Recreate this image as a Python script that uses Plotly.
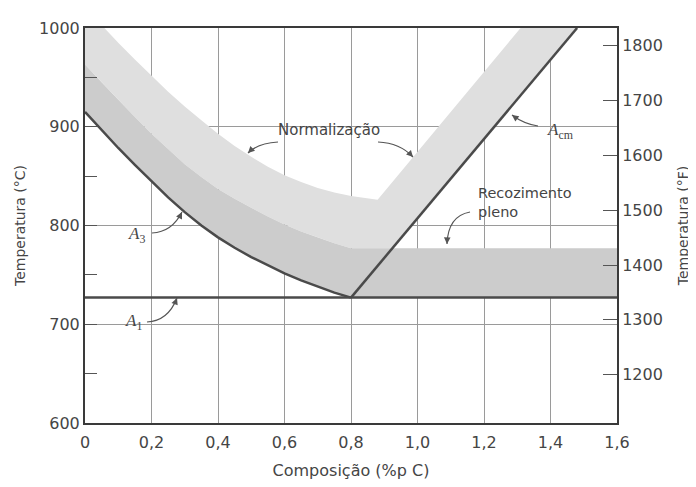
import math
import plotly.graph_objects as go

# ---- data ----
x_hypo = [0.0, 0.05, 0.10, 0.15, 0.20, 0.25, 0.30, 0.35, 0.40, 0.45, 0.50, 0.55, 0.60, 0.65, 0.70, 0.75, 0.80]
a3_temp = [915, 896.5, 878.5, 861.5, 844.5, 828.5, 813.5, 800, 788, 777.5, 768, 759.5, 751.5, 744.5, 738, 732, 727]  # A3 line
anneal_top_hypo = [963, 945, 927, 910, 893, 877, 862, 849, 837, 827, 818, 809, 801, 794, 788, 782, 777]              # top of full-annealing band
norm_top_x = [0.05, 0.10, 0.15, 0.20, 0.25, 0.30, 0.35, 0.40, 0.45, 0.50, 0.55, 0.60, 0.65, 0.70, 0.75, 0.80, 0.85, 0.88]
norm_top_t = [1003, 985, 968, 951.5, 935.5, 920.5, 906.5, 893, 880.5, 869.5, 859.5, 851, 844, 838, 833.5, 830, 827.5, 826]  # top of normalizing band
acm_x = [0.8, 1.48]
acm_t = [727, 1000]                                              # Acm line
norm_hyper_x = [0.88, 1.31]
norm_hyper_t = [826, 1000]                                       # upper edge of normalizing band (hyper)
a1_x = [0.0, 1.6]
a1_t = [727, 727]                                                # A1 line
anneal_hyper_x = [0.8, 1.6]
anneal_hyper_top = 777                                           # top of full annealing band (hyper)

x_ticks = [0, 0.2, 0.4, 0.6, 0.8, 1.0, 1.2, 1.4, 1.6]
x_ticklabels = ["0", "0,2", "0,4", "0,6", "0,8", "1,0", "1,2", "1,4", "1,6"]
c_ticks = [600, 700, 800, 900, 1000]
f_ticks = [1200, 1300, 1400, 1500, 1600, 1700, 1800]
c_range = [600, 1000]
f_range = [c_range[0] * 9 / 5 + 32, c_range[1] * 9 / 5 + 32]

LIGHT = "rgb(223,223,223)"
DARK = "rgb(204,204,204)"
LINE = "#4a4a4a"
TEXT = "#454545"
FONT = "DejaVu Sans"
SERIF = "Liberation Serif"

# point where Acm reaches the top of the annealing band
acm_cross = acm_x[0] + (anneal_hyper_top - acm_t[0]) / (acm_t[1] - acm_t[0]) * (acm_x[1] - acm_x[0])

fig = go.Figure()

# normalizing band (light)
light_x = [x_hypo[0]] + x_hypo + [acm_cross, acm_x[1], norm_hyper_x[1]] + norm_top_x[::-1] + [x_hypo[0]]
light_y = [anneal_top_hypo[0]] + anneal_top_hypo + [anneal_hyper_top, acm_t[1], norm_hyper_t[1]] + norm_top_t[::-1] + [norm_top_t[0]]
fig.add_trace(go.Scatter(x=light_x, y=light_y, fill="toself", fillcolor=LIGHT,
                         line=dict(width=0), mode="lines", hoverinfo="skip", showlegend=False))

# full annealing band (dark)
dark_x = x_hypo + [anneal_hyper_x[1], anneal_hyper_x[1]] + x_hypo[::-1]
dark_y = a3_temp + [a1_t[1], anneal_hyper_top] + anneal_top_hypo[::-1]
fig.add_trace(go.Scatter(x=dark_x, y=dark_y, fill="toself", fillcolor=DARK,
                         line=dict(width=0), mode="lines", hoverinfo="skip", showlegend=False))

# phase boundary lines
for xs, ys in [(x_hypo, a3_temp), (a1_x, a1_t), (acm_x, acm_t)]:
    fig.add_trace(go.Scatter(x=xs, y=ys, mode="lines", line=dict(color=LINE, width=2.5),
                             hoverinfo="skip", showlegend=False))

# dummy trace for right (°F) axis
fig.add_trace(go.Scatter(x=[0], y=[f_range[0]], yaxis="y2", mode="markers",
                         marker=dict(opacity=0), hoverinfo="skip", showlegend=False))

fig.update_layout(
    width=688, height=479,
    margin=dict(l=77, r=79, t=20, b=64),
    paper_bgcolor="white", plot_bgcolor="white",
    font=dict(family=FONT, color=TEXT, size=16),
    xaxis=dict(range=[0, 1.6], tickvals=x_ticks, ticktext=x_ticklabels,
               showgrid=True, gridcolor="#9a9a9a", gridwidth=1,
               showline=True, linecolor="#3a3a3a", linewidth=2, mirror=True,
               ticks="", zeroline=False, ticklabelstandoff=4, automargin=False,
               title=dict(text="Composição (%p C)", font=dict(size=16), standoff=14)),
    yaxis=dict(range=c_range, tickvals=c_ticks,
               showgrid=True, gridcolor="#9a9a9a", gridwidth=1,
               showline=True, linecolor="#3a3a3a", linewidth=2, mirror=True,
               ticks="inside", ticklen=12, tickcolor="#555", zeroline=False, automargin=False,
               minor=dict(dtick=50, ticks="inside", ticklen=12, tickcolor="#555", showgrid=False),
               title=dict(text="Temperatura (°C)", font=dict(size=14), standoff=10)),
    yaxis2=dict(range=f_range, tickvals=f_ticks, overlaying="y", side="right",
                showgrid=False, showline=True, linecolor="#3a3a3a", linewidth=2,
                ticks="inside", ticklen=14, tickcolor="#555", zeroline=False, automargin=False,
                title=dict(text="Temperatura (°F)", font=dict(size=14), standoff=16)),
)

def px2x(px):
    return (px - 85) / 332.5

def py2t(py):
    return 1000 - (py - 28) / 0.9875

# text labels
labels = [
    ("Normalização", 329, 130, "center", 15, FONT),
    ("<i>A</i><sub>cm</sub>", 560, 131, "center", 17, SERIF),
    ("Recozimento<br>pleno", 476, 202, "left", 14.5, FONT),
    ("<i>A</i><sub>3</sub>", 136, 235, "center", 17, SERIF),
    ("<i>A</i><sub>1</sub>", 133, 322, "center", 17, SERIF),
]
for txt, px, py, anchor, sz, fam in labels:
    fig.add_annotation(x=px2x(px), y=py2t(py), text=txt, showarrow=False, xanchor=anchor,
                       yanchor="middle", align="left", font=dict(size=sz, color=TEXT, family=fam))

# curved leader arrows: tail, control, head (pixel positions of the decoration)
arrows = [
    ((278, 142), (258, 143), (248, 153)),
    ((378, 142), (400, 143), (413, 157)),
    ((538, 126), (524, 124), (512, 115)),
    ((470, 212), (448, 216), (447, 244)),
    ((152, 233), (172, 232), (182, 212)),
    ((147, 322), (168, 321), (177, 298)),
]
for (tx, ty), (cx, cy), (hx, hy) in arrows:
    path = "M {},{} Q {},{} {},{}".format(px2x(tx), py2t(ty), px2x(cx), py2t(cy), px2x(hx), py2t(hy))
    fig.add_shape(type="path", path=path, xref="x", yref="y",
                  line=dict(color="#555", width=1.2))
    dx, dy = cx - hx, cy - hy
    d = math.hypot(dx, dy)
    fig.add_annotation(x=px2x(hx), y=py2t(hy), ax=dx / d * 6, ay=dy / d * 6, text="",
                       showarrow=True, arrowhead=2, arrowsize=1.1, arrowwidth=1.2, arrowcolor="#555")

fig.write_html("out.html")
